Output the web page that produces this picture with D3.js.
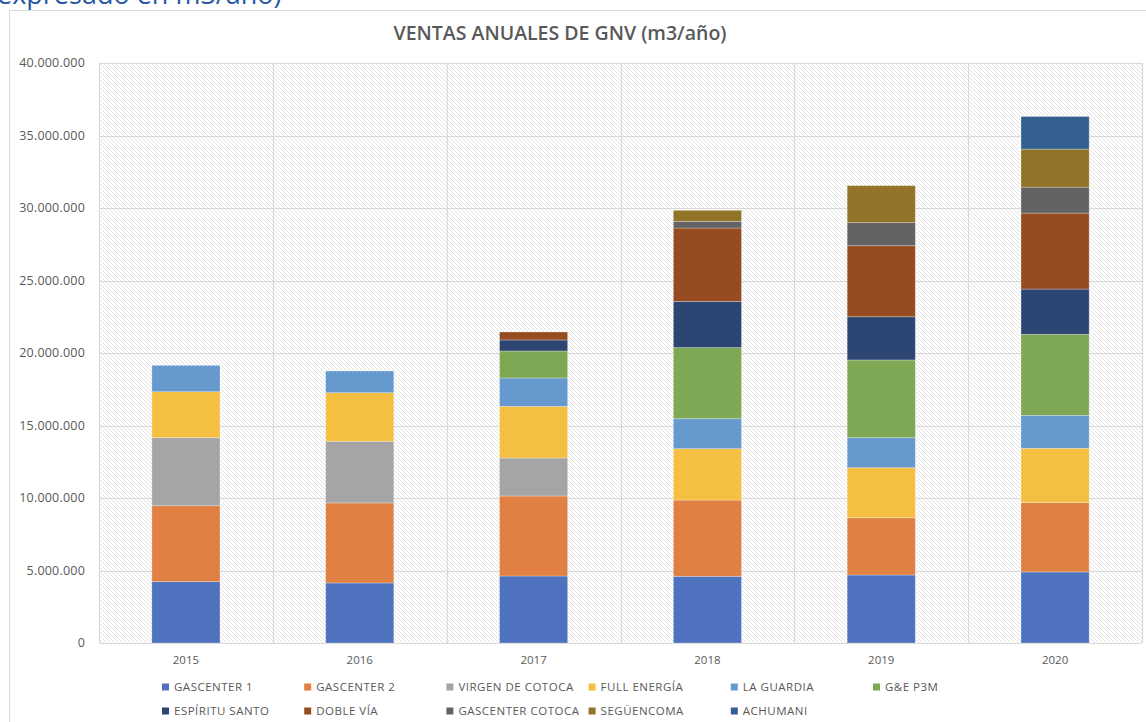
<!DOCTYPE html>
<html>
<head>
<meta charset="utf-8">
<script src="https://cdn.jsdelivr.net/npm/d3@7"></script>
<style>
  body { margin: 0; background: #fff; overflow: hidden; }
  svg { display: block; font-family: "Open Sans", sans-serif; }
</style>
</head>
<body>
<svg id="chart" width="1146" height="722"></svg>
<script>
// years on the x axis
var years = ["2015", "2016", "2017", "2018", "2019", "2020"];

// stations, bottom to top in each stack
var stations = ["GASCENTER 1", "GASCENTER 2", "VIRGEN DE COTOCA", "FULL ENERGÍA", "LA GUARDIA",
                "G&E P3M", "ESPÍRITU SANTO", "DOBLE VÍA", "GASCENTER COTOCA", "SEGÜENCOMA", "ACHUMANI"];

var colors = ["#4e72be", "#e08143", "#a5a5a5", "#f5bf42", "#6699ce",
              "#7ea854", "#2d4573", "#964b20", "#636363", "#927428", "#335f91"];

// sales per year (m3/año), one array per station
var gascenter1      = [4230000, 4140000, 4620000, 4600000, 4690000, 4900000];
var gascenter2      = [5240000, 5520000, 5520000, 5260000, 3950000, 4780000];
var virgenCotoca    = [4690000, 4250000, 2620000, 0, 0, 0];
var fullEnergia     = [3170000, 3350000, 3560000, 3540000, 3450000, 3750000];
var laGuardia       = [1820000, 1500000, 1960000, 2070000, 2070000, 2270000];
var gep3m           = [0, 0, 1860000, 4900000, 5360000, 5590000];
var espirituSanto   = [0, 0, 760000, 3190000, 2980000, 3120000];
var dobleVia        = [0, 0, 550000, 5060000, 4900000, 5240000];
var gascenterCotoca = [0, 0, 0, 460000, 1590000, 1790000];
var seguencoma      = [0, 0, 0, 760000, 2550000, 2620000];
var achumani        = [0, 0, 0, 0, 0, 2250000];

var yTicks = [0, 5000000, 10000000, 15000000, 20000000, 25000000, 30000000, 35000000, 40000000];

var series = [gascenter1, gascenter2, virgenCotoca, fullEnergia, laGuardia, gep3m,
              espirituSanto, dobleVia, gascenterCotoca, seguencoma, achumani];

// table for d3.stack
var table = years.map(function(y, i) {
    var row = { year: y };
    stations.forEach(function(s, k) { row[s] = series[k][i]; });
    return row;
});

var svg = d3.select("#chart");
var plot = { left: 99, right: 1142, top: 63, bottom: 643 };

var es = d3.formatLocale({ decimal: ",", thousands: ".", grouping: [3], currency: ["", ""] });
var fmt = es.format(",");

var x = d3.scaleBand().domain(years).range([plot.left, plot.right])
            .paddingInner(0.608).paddingOuter(0.304);
var xGrid = d3.scaleBand().domain(years).range([plot.left, plot.right]).padding(0);
var y = d3.scaleLinear().domain([0, 40000000]).range([plot.bottom, plot.top]);

// hatch pattern for the plot background
var defs = svg.append("defs");
var pat = defs.append("pattern").attr("id", "hatch")
    .attr("patternUnits", "userSpaceOnUse").attr("width", 4).attr("height", 4);
pat.append("rect").attr("width", 4).attr("height", 4).attr("fill", "#ffffff");
pat.append("path").attr("d", "M-1,-1 L5,5 M-1,3 L1,5 M3,-1 L5,1")
    .attr("stroke", "#dedede").attr("stroke-width", 0.9);

// top-left text cut off by the page edge (as in the source picture)
svg.append("text").attr("x", -3).attr("y", 4)
    .attr("fill", "#2957a4").attr("font-size", 27)
    .text("expresado en m3/año)");

// chart frame
svg.append("path").attr("d", "M9.5,722 L9.5,10.5 L1146,10.5")
    .attr("fill", "none").attr("stroke", "#d9d9d9");

svg.append("text").attr("x", 560).attr("y", 40)
    .attr("text-anchor", "middle").attr("fill", "#595959")
    .attr("font-size", 19.5).attr("font-weight", 600)
    .text("VENTAS ANUALES DE GNV (m3/año)");

svg.append("rect")
    .attr("x", plot.left).attr("y", plot.top)
    .attr("width", plot.right - plot.left).attr("height", plot.bottom - plot.top)
    .attr("fill", "url(#hatch)");

// horizontal gridlines
svg.append("g").selectAll("line").data(yTicks).join("line")
    .attr("x1", plot.left).attr("x2", plot.right)
    .attr("y1", function(d) { return Math.round(y(d)) + 0.5; })
    .attr("y2", function(d) { return Math.round(y(d)) + 0.5; })
    .attr("stroke", "#d9d9d9").attr("stroke-width", 1.2);

// vertical gridlines at category boundaries
var bounds = years.map(function(d) { return xGrid(d); }).concat([plot.right]);
svg.append("g").selectAll("line").data(bounds).join("line")
    .attr("x1", function(d) { return Math.round(d) + 0.5; })
    .attr("x2", function(d) { return Math.round(d) + 0.5; })
    .attr("y1", plot.top).attr("y2", plot.bottom)
    .attr("stroke", "#d9d9d9").attr("stroke-width", 1.2);

// y labels
svg.append("g").selectAll("text").data(yTicks).join("text")
    .attr("x", 85).attr("y", function(d) { return y(d) + 4; })
    .attr("text-anchor", "end").attr("fill", "#595959")
    .attr("font-size", 12.5).attr("letter-spacing", 0.2)
    .text(function(d) { return fmt(d); });

// x labels
svg.append("g").selectAll("text").data(years).join("text")
    .attr("x", function(d) { return x(d) + x.bandwidth() / 2; }).attr("y", 664)
    .attr("text-anchor", "middle").attr("fill", "#595959").attr("font-size", 11.5)
    .text(function(d) { return d; });

// stacked bars
var stacked = d3.stack().keys(stations)(table);
svg.append("g").selectAll("g").data(stacked).join("g")
    .attr("fill", function(d, i) { return colors[i]; })
  .selectAll("rect").data(function(d) { return d.filter(function(p) { return p[1] > p[0]; }); }).join("rect")
    .attr("x", function(d) { return x(d.data.year); })
    .attr("width", x.bandwidth())
    .attr("y", function(d) { return y(d[1]); })
    .attr("height", function(d) { return y(d[0]) - y(d[1]); })
    .attr("stroke", "#ffffff").attr("stroke-opacity", 0.35).attr("stroke-width", 0.8);

// legend, two rows of six columns
var leg = svg.append("g").selectAll("g").data(stations).join("g")
    .attr("transform", function(d, i) {
        return "translate(" + (162 + (i % 6) * 142.2) + "," + (i < 6 ? 687 : 711) + ")";
    });
leg.append("rect").attr("x", 0).attr("y", -3.5).attr("width", 7).attr("height", 7)
    .attr("fill", function(d, i) { return colors[i]; });
leg.append("text").attr("x", 12).attr("y", 4)
    .attr("fill", "#595959").attr("font-size", 11.5).attr("letter-spacing", 0.5)
    .text(function(d) { return d; });
</script>
</body>
</html>
